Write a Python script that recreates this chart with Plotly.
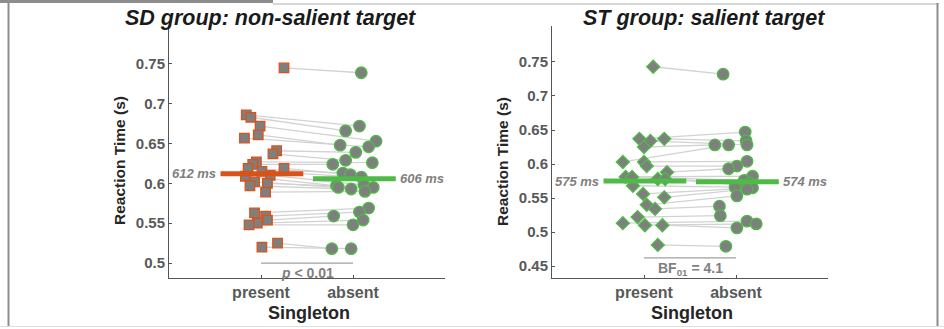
import plotly.graph_objects as go

# ---------------- data ----------------
categories = ["present", "absent"]
yticks_sd = [0.5, 0.55, 0.6, 0.65, 0.7, 0.75]
yticks_st = [0.45, 0.5, 0.55, 0.6, 0.65, 0.7, 0.75]

sd_present = [0.745, 0.686, 0.683, 0.672, 0.661, 0.657, 0.641, 0.637, 0.627, 0.624, 0.619, 0.619, 0.615,
              0.610, 0.609, 0.602, 0.600, 0.597, 0.589, 0.563, 0.559, 0.554, 0.550, 0.548, 0.525, 0.520]
sd_present_x = [1.25, 0.84, 0.89, 0.99, 0.97, 0.82, 1.17, 1.13, 0.95, 0.91, 0.86, 1.25, 1.01,
                1.10, 0.83, 0.93, 1.07, 0.88, 1.05, 0.93, 1.05, 1.07, 0.96, 0.87, 1.18, 1.01]
sd_absent = [0.739, 0.672, 0.666, 0.653, 0.648, 0.646, 0.639, 0.629, 0.626, 0.624, 0.613, 0.611, 0.608,
             0.598, 0.597, 0.595, 0.595, 0.593, 0.590, 0.569, 0.564, 0.559, 0.554, 0.548, 0.518, 0.518]
sd_absent_x = [2.09, 2.07, 1.92, 2.25, 1.86, 2.17, 2.03, 1.92, 2.21, 1.78, 1.89, 1.97, 2.09,
               2.12, 1.82, 1.84, 2.22, 1.98, 2.13, 2.17, 2.07, 1.79, 2.11, 2.00, 1.77, 1.98]

st_present = [0.743, 0.637, 0.637, 0.634, 0.625, 0.603, 0.603, 0.597, 0.588, 0.581, 0.581, 0.578,
              0.578, 0.568, 0.556, 0.551, 0.540, 0.534, 0.522, 0.513, 0.510, 0.510, 0.481]
st_present_x = [1.10, 0.95, 1.22, 1.07, 1.00, 0.77, 1.00, 1.03, 1.25, 0.80, 0.87, 1.15,
                1.23, 0.88, 0.99, 1.22, 1.03, 1.12, 0.93, 0.77, 1.01, 1.20, 1.15]
st_absent = [0.732, 0.647, 0.634, 0.628, 0.628, 0.628, 0.604, 0.597, 0.593, 0.582, 0.576, 0.572,
             0.569, 0.566, 0.565, 0.563, 0.553, 0.538, 0.524, 0.516, 0.512, 0.506, 0.479]
st_absent_x = [1.86, 2.10, 2.11, 2.12, 1.77, 1.92, 2.12, 2.01, 1.92, 2.18, 2.09, 2.15,
               2.07, 1.99, 2.18, 2.12, 2.01, 1.82, 1.83, 2.12, 2.22, 2.01, 1.89]

sd_means = [0.612, 0.606]
st_means = [0.575, 0.574]
sd_mean_labels = ["612 ms", "606 ms"]
st_mean_labels = ["575 ms", "574 ms"]
sd_stat = "<i>p</i> < 0.01"
st_stat = "BF<sub>01</sub> = 4.1"
sd_stat_y = 0.5
st_stat_y = 0.462

# ---------------- style ----------------
W, H = 944, 329
ORANGE = "#D95319"
GREEN = "#4DBB46"
FILL = "#7F7F7F"
LINE = "#D2D2D2"
AX = "#555555"
TXT = "#595959"
FONT = "Liberation Sans, Arial, sans-serif"


def px(x):
    return x / W


def py(y):
    return 1 - y / H


fig = go.Figure()


def panel(xa, ya, pres, pres_x, absn, absn_x, pres_sym, pres_edge, pres_size, means, mlabels):
    lx, ly = [], []
    for a, b, c, d in zip(pres_x, pres, absn_x, absn):
        lx += [a, c, None]
        ly += [b, d, None]
    fig.add_trace(go.Scatter(x=lx, y=ly, mode="lines", line=dict(color=LINE, width=1.3),
                             xaxis=xa, yaxis=ya, hoverinfo="skip", showlegend=False))
    fig.add_trace(go.Scatter(x=pres_x, y=pres, mode="markers", xaxis=xa, yaxis=ya, showlegend=False,
                             marker=dict(symbol=pres_sym, size=pres_size, color=FILL,
                                         line=dict(color=pres_edge, width=1.3))))
    fig.add_trace(go.Scatter(x=absn_x, y=absn, mode="markers", xaxis=xa, yaxis=ya, showlegend=False,
                             marker=dict(symbol="circle", size=11.5, color=FILL,
                                         line=dict(color=GREEN, width=1.3))))
    # mean bars
    fig.add_trace(go.Scatter(x=[0.56, 1.46], y=[means[0]] * 2, mode="lines", xaxis=xa, yaxis=ya,
                             line=dict(color=pres_edge, width=5), showlegend=False, hoverinfo="skip"))
    fig.add_trace(go.Scatter(x=[1.565, 2.465], y=[means[1]] * 2, mode="lines", xaxis=xa, yaxis=ya,
                             line=dict(color=GREEN, width=5), showlegend=False, hoverinfo="skip"))
    fig.add_annotation(x=0.53, y=means[0], xref=xa, yref=ya, text="<b><i>%s</i></b>" % mlabels[0],
                       showarrow=False, xanchor="right", yanchor="middle",
                       font=dict(family=FONT, size=13, color="#7F7F7F"))
    fig.add_annotation(x=2.49, y=means[1], xref=xa, yref=ya, text="<b><i>%s</i></b>" % mlabels[1],
                       showarrow=False, xanchor="left", yanchor="middle",
                       font=dict(family=FONT, size=13, color="#7F7F7F"))


panel("x", "y", sd_present, sd_present_x, sd_absent, sd_absent_x, "square", ORANGE, 9.5,
      sd_means, sd_mean_labels)
panel("x2", "y2", st_present, st_present_x, st_absent, st_absent_x, "diamond", GREEN, 10,
      st_means, st_mean_labels)

# significance lines
for xa, ya, yv, txt in [("x", "y", sd_stat_y, sd_stat), ("x2", "y2", st_stat_y, st_stat)]:
    fig.add_trace(go.Scatter(x=[1, 2], y=[yv, yv], mode="lines", xaxis=xa, yaxis=ya,
                             line=dict(color="#A0A0A0", width=1.2), showlegend=False, hoverinfo="skip"))
    fig.add_annotation(x=1.5, y=yv, xref=xa, yref=ya, text="<b>%s</b>" % txt, showarrow=False,
                       yanchor="top", yshift=0, font=dict(family=FONT, size=14, color="#7F7F7F"))

top_px, bot_px = 26, 278
ydom = [py(bot_px), py(top_px)]
xdom1 = [px(169), px(445)]
xdom2 = [px(552), px(828)]

axcommon = dict(showgrid=False, zeroline=False, showline=True, linecolor=AX, linewidth=1,
                ticks="inside", ticklen=3, tickcolor=AX, mirror=False)

fig.update_layout(
    width=W, height=H, margin=dict(l=0, r=0, t=0, b=0),
    paper_bgcolor="white", plot_bgcolor="white",
    xaxis=dict(domain=xdom1, range=[0, 3], tickvals=[1, 2], ticktext=["<b>%s</b>" % c for c in categories],
               anchor="y", tickfont=dict(family=FONT, size=16, color=TXT), **axcommon),
    yaxis=dict(domain=ydom, range=[0.4812, 0.7977], tickvals=yticks_sd,
               ticktext=["<b>%g</b>" % v for v in yticks_sd], anchor="x",
               tickfont=dict(family=FONT, size=15, color=TXT), **axcommon),
    xaxis2=dict(domain=xdom2, range=[0, 3], tickvals=[1, 2], ticktext=["<b>%s</b>" % c for c in categories],
                anchor="y2", tickfont=dict(family=FONT, size=16, color=TXT), **axcommon),
    yaxis2=dict(domain=ydom, range=[0.4324, 0.8029], tickvals=yticks_st,
                ticktext=["<b>%g</b>" % v for v in yticks_st], anchor="x2",
                tickfont=dict(family=FONT, size=15, color=TXT), **axcommon),
)

# titles and axis labels (paper coords)
for cx, title in [(270, "SD group: non-salient target"), (704, "ST group: salient target")]:
    fig.add_annotation(x=px(cx), y=py(18), xref="paper", yref="paper", text="<b><i>%s</i></b>" % title,
                       showarrow=False, font=dict(family=FONT, size=21.5, color="#1a1a1a"),
                       xanchor="center", yanchor="middle")
for cx in [309, 692]:
    fig.add_annotation(x=px(cx), y=py(313), xref="paper", yref="paper", text="<b>Singleton</b>",
                       showarrow=False, font=dict(family=FONT, size=18, color="#262626"),
                       xanchor="center", yanchor="middle")
for cx in [120, 503]:
    fig.add_annotation(x=px(cx), y=py(161), xref="paper", yref="paper", text="<b>Reaction Time (s)</b>",
                       showarrow=False, textangle=-90, font=dict(family=FONT, size=15.5, color="#262626"),
                       xanchor="center", yanchor="middle")

# frame
shapes = [
    dict(type="rect", x0=px(0), x1=px(273), y0=py(0), y1=py(3), fillcolor="#8C8C8C", line=dict(width=0)),
    dict(type="line", x0=px(273), x1=px(939), y0=py(4), y1=py(4), line=dict(color="#C8C8C8", width=1.5)),
    dict(type="line", x0=px(8.5), x1=px(8.5), y0=py(3), y1=py(326), line=dict(color="#8A8E92", width=2)),
    dict(type="line", x0=px(937.5), x1=px(937.5), y0=py(3), y1=py(326), line=dict(color="#8A8E92", width=2)),
    dict(type="line", x0=px(0), x1=px(944), y0=py(326.5), y1=py(326.5), line=dict(color="#E0E0E0", width=1)),
]
for s in shapes:
    s.update(xref="paper", yref="paper", layer="above")
fig.update_layout(shapes=shapes)

fig.write_html("out.html", config={"displayModeBar": False},
               post_script="document.body.style.margin='0px';")
